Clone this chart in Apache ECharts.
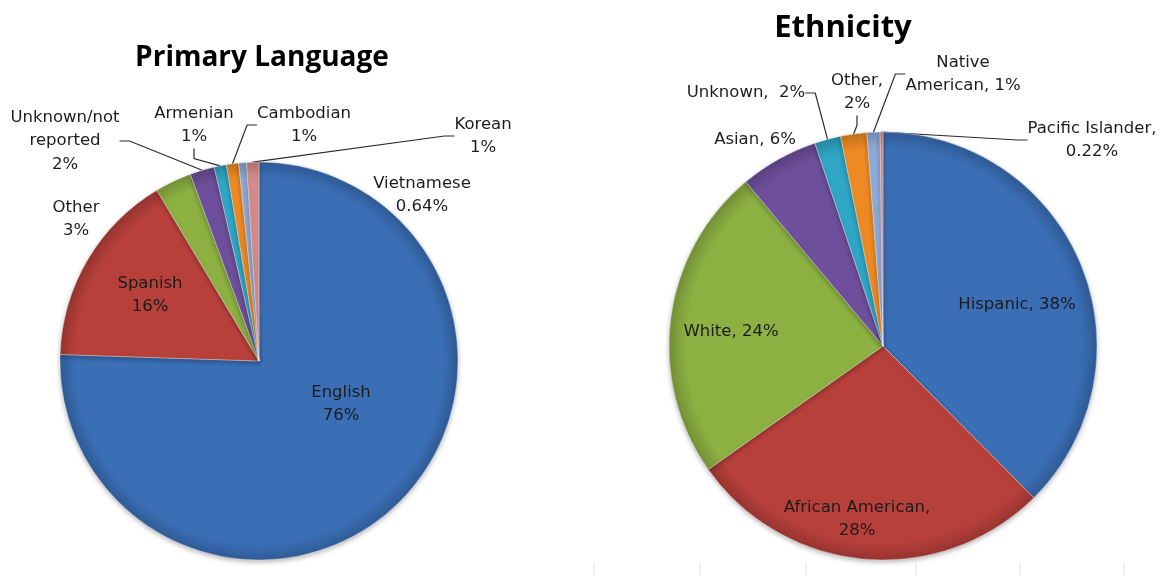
<!DOCTYPE html>
<html>
<head>
<meta charset="utf-8">
<script src="https://cdn.jsdelivr.net/npm/echarts@6/dist/echarts.min.js"></script>
<style>
  html, body { margin: 0; padding: 0; background: #ffffff; }
  #chart { width: 1167px; height: 575px; }
</style>
</head>
<body>
<div id="chart"></div>
<script>
// Primary language of enrolled students (percent)
const languageNames = ['English', 'Spanish', 'Other', 'Unknown/not\nreported', 'Armenian', 'Cambodian', 'Vietnamese', 'Korean'];
const languageValues = [76, 16, 3, 2, 1, 1, 0.64, 1];

// Ethnicity of enrolled students (percent)
const ethnicNames = ['Hispanic', 'African American', 'White', 'Asian', 'Unknown', 'Other', 'Native\nAmerican', 'Pacific Islander'];
const ethnicValues = [38, 28, 24, 6, 2, 2, 1, 0.22];
// text placed between a category name and its percentage
const ethnicSeparators = [', ', ',\n', ', ', ', ', ',  ', ',\n', ', ', ',\n'];

const palette = ['#3a6fb6', '#b8403b', '#8cb042', '#6e4f9c', '#2fa6c4', '#ee8a24', '#8eaad8', '#d48a8a'];

// where each label sits on the page, and whether it gets a leader line
const languageLabelSpots = [
  { x: 341, y: 404, line: false },
  { x: 150, y: 295, line: false },
  { x: 76, y: 219, line: false },
  { x: 65, y: 141, line: true },
  { x: 194, y: 125, line: true },
  { x: 304, y: 125, line: true },
  { x: 422, y: 195, line: false },
  { x: 483, y: 136, line: true }
];
const ethnicLabelSpots = [
  { x: 1017, y: 305, line: false },
  { x: 857, y: 519, line: false },
  { x: 731, y: 332, line: false },
  { x: 755, y: 140, line: false },
  { x: 746, y: 93, line: true },
  { x: 857, y: 92, line: true },
  { x: 963, y: 74, line: true },
  { x: 1092, y: 140, line: true }
];

const labelFont = { fontFamily: 'DejaVu Sans', fontSize: 16.5, color: '#1c1c1c', lineHeight: 23.5 };

// mix a hex colour toward black (f < 0) or white (f > 0)
function shade(hex, f) {
  const n = parseInt(hex.slice(1), 16);
  const ch = [(n >> 16) & 255, (n >> 8) & 255, n & 255].map(c =>
    Math.round(f < 0 ? c * (1 + f) : c + (255 - c) * f));
  return 'rgb(' + ch.join(',') + ')';
}

function buildData(names, values, spots, center, radius) {
  return names.map((n, i) => ({
    name: n,
    value: values[i],
    itemStyle: {
      color: new echarts.graphic.RadialGradient(center[0], center[1], radius, [
        { offset: 0, color: palette[i] },
        { offset: 0.92, color: palette[i] },
        { offset: 1, color: shade(palette[i], -0.18) }
      ], true)
    },
    labelLine: { show: spots[i].line }
  }));
}

function pieSeries(names, values, spots, center, radius, formatter) {
  return {
    type: 'pie',
    center: center,
    radius: radius,
    startAngle: 90,
    clockwise: true,
    avoidLabelOverlap: false,
    animation: false,
    data: buildData(names, values, spots, center, radius),
    itemStyle: {
      borderColor: 'rgba(255,255,255,0.35)',
      borderWidth: 1,
      shadowBlur: 5,
      shadowColor: 'rgba(0,0,0,0.28)',
      shadowOffsetY: 2
    },
    label: Object.assign({ show: true, position: 'outside', align: 'center', formatter: formatter }, labelFont),
    labelLine: { show: true, length: 10, length2: 10, lineStyle: { color: '#2a2a2a', width: 1.2 } },
    labelLayout: function (p) {
      const s = spots[p.dataIndex];
      return { x: s.x, y: s.y, align: 'center', verticalAlign: 'middle' };
    },
    emphasis: { disabled: true }
  };
}

const chart = echarts.init(document.getElementById('chart'), null, { renderer: 'canvas' });

const bottomTicks = [594, 700, 806, 916, 1020, 1124].map(x => ({
  type: 'line',
  shape: { x1: x, y1: 563, x2: x, y2: 575 },
  style: { stroke: '#e4e4e4', lineWidth: 1 },
  silent: true
}));

chart.setOption({
  backgroundColor: '#ffffff',
  title: [
    {
      text: 'Primary Language',
      left: 257, top: 39, textAlign: 'center',
      textStyle: { fontFamily: 'Open Sans', fontWeight: 'bold', fontSize: 28, color: '#000' }
    },
    {
      text: 'Ethnicity',
      left: 838, top: 8, textAlign: 'center',
      textStyle: { fontFamily: 'Open Sans', fontWeight: 'bold', fontSize: 31, color: '#000' }
    }
  ],
  graphic: bottomTicks,
  series: [
    pieSeries(languageNames, languageValues, languageLabelSpots, [259, 361], 199,
      p => p.name + '\n' + p.value + '%'),
    pieSeries(ethnicNames, ethnicValues, ethnicLabelSpots, [883, 346], 214,
      p => p.name + ethnicSeparators[p.dataIndex] + p.value + '%')
  ]
});
</script>
</body>
</html>
